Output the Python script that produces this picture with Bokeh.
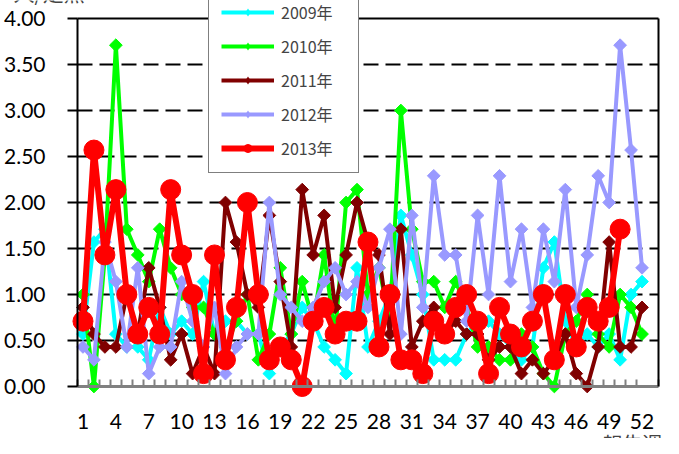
import math
from bokeh.plotting import figure
from bokeh.models import (Range1d, FixedTicker, Legend, LegendItem, Label,
                          NumeralTickFormatter, LinearAxis)
from bokeh.embed import file_html
from bokeh.resources import INLINE

weeks = list(range(1, 53))
x_ticks = list(range(1, 53, 3))
y_ticks = [0.0, 0.5, 1.0, 1.5, 2.0, 2.5, 3.0, 3.5, 4.0]

y2009 = [0.57, 1.57, 1.71, 0.57, 0.43, 0.43, 0.29, 0.86, 0.57, 0.71,
         0.57, 1.14, 0.57, 0.71, 0.71, 0.57, 0.57, 0.14, 0.43, 0.57,
         0.86, 0.71, 0.43, 0.29, 0.14, 1.29, 0.43, 0.71, 1.00, 1.86,
         1.43, 1.00, 0.29, 0.29, 0.29, 0.57, 0.71, 0.71, 0.57, 0.43,
         0.29, 0.43, 1.29, 1.57, 0.71, 0.43, 0.57, 0.43, 0.57, 0.29,
         1.00, 1.14]
y2010 = [1.00, 0.00, 1.43, 3.71, 1.71, 1.43, 1.14, 1.71, 1.29, 1.00,
         0.86, 0.86, 0.57, 0.43, 0.71, 1.00, 0.29, 0.57, 1.29, 0.57,
         1.14, 0.71, 1.43, 0.57, 2.00, 2.14, 1.00, 1.29, 0.71, 3.00,
         1.71, 1.14, 1.14, 0.86, 1.14, 0.86, 0.43, 0.43, 0.29, 0.29,
         0.57, 0.43, 0.14, 0.00, 0.57, 0.71, 1.00, 0.57, 0.43, 1.00,
         0.86, 0.57]
y2011 = [0.86, 0.57, 0.43, 0.43, 1.00, 0.57, 1.29, 0.86, 0.29, 0.57,
         0.14, 0.43, 0.14, 2.00, 1.57, 1.00, 0.86, 1.86, 1.14, 0.43,
         2.14, 1.43, 1.86, 0.86, 1.43, 2.00, 1.57, 1.43, 0.57, 1.71,
         0.43, 0.71, 0.86, 0.57, 0.71, 0.57, 0.57, 0.29, 0.43, 0.43,
         0.14, 0.29, 0.14, 0.29, 0.57, 0.14, 0.00, 0.43, 1.57, 0.43,
         0.43, 0.86]
y2012 = [0.43, 0.29, 1.57, 1.14, 0.43, 1.29, 0.14, 0.43, 0.43, 1.14,
         0.71, 0.43, 0.86, 0.14, 0.43, 0.57, 0.57, 2.00, 1.00, 0.86,
         0.71, 0.86, 1.14, 1.29, 1.00, 1.14, 0.86, 1.29, 1.71, 0.57,
         1.86, 0.86, 2.29, 1.43, 1.43, 0.71, 1.86, 1.00, 2.29, 1.14,
         1.71, 0.86, 1.71, 1.14, 2.14, 0.86, 1.43, 2.29, 2.00, 3.71,
         2.57, 1.29]
y2013 = [0.71, 2.57, 1.43, 2.14, 1.00, 0.57, 0.86, 0.57, 2.14, 1.43,
         1.00, 0.14, 1.43, 0.29, 0.86, 2.00, 1.00, 0.29, 0.43, 0.29,
         0.00, 0.71, 0.86, 0.57, 0.71, 0.71, 1.57, 0.43, 1.00, 0.29,
         0.29, 0.14, 0.71, 0.57, 0.86, 1.00, 0.71, 0.14, 0.86, 0.57,
         0.43, 0.71, 1.00, 0.29, 1.00, 0.43, 0.86, 0.71, 0.86, 1.71]

series_labels = ["2009年", "2010年", "2011年", "2012年", "2013年"]
series_colors = ["#00FFFF", "#00FF00", "#800000", "#9999FF", "#FF0000"]

X0, X1 = 0.5, 53.5      # category axis extent
Y0, Y1 = 0.0, 4.0       # value axis extent

p = figure(width=663, height=438, output_backend="svg", toolbar_location=None,
           x_range=Range1d(-6.524, 53.958), y_range=Range1d(-0.5652, 4.1957))
p.min_border = 0
p.min_border_left = 0
p.min_border_right = 0
p.min_border_top = 0
p.min_border_bottom = 0
p.background_fill_color = "white"
p.border_fill_color = "white"
p.outline_line_color = None
p.xgrid.grid_line_color = None
p.ygrid.grid_line_color = None

# dashed horizontal grid lines inside the plot area
grid_y = [t for t in y_ticks if 0 < t < 4.0]
p.segment(x0=[X0] * len(grid_y), y0=grid_y, x1=[X1] * len(grid_y), y1=grid_y,
          line_color="black", line_width=2, line_dash="15 7")

items = []
all_y = [y2009, y2010, y2011, y2012]
for ys, lab, col in zip(all_y, series_labels[:4], series_colors[:4]):
    xs = weeks[:len(ys)]
    lr = p.line(xs, ys, line_color=col, line_width=4)
    p.scatter(xs, ys, marker="square", angle=math.pi / 4, size=9,
              fill_color=col, line_color=col)
    # zero-size diamonds: invisible in the plot, give the legend its diamond
    lg = p.scatter(xs, ys, marker="diamond", size=0,
                   fill_color=col, line_color=col, line_alpha=0)
    items.append(LegendItem(label=lab, renderers=[lr, lg]))

xs13 = weeks[:len(y2013)]
lr = p.line(xs13, y2013, line_color=series_colors[4], line_width=6)
sr = p.scatter(xs13, y2013, marker="circle", size=20,
               fill_color=series_colors[4], line_color=series_colors[4])
items.append(LegendItem(label=series_labels[4], renderers=[lr, sr]))

# axes, placed at fixed data locations
xax = p.xaxis[0]
xax.fixed_location = Y0
xax.bounds = (X0, X1)
xax.ticker = FixedTicker(ticks=x_ticks,
                         minor_ticks=[w - 0.5 for w in weeks] + [X1])
xax.axis_line_color = "#808080"
xax.axis_line_width = 3
xax.major_tick_line_color = None
xax.minor_tick_line_color = "#808080"
xax.minor_tick_line_width = 2
xax.minor_tick_in = 7
xax.minor_tick_out = 0
xax.major_label_standoff = 21
xax.major_label_text_font = "Lato"
xax.major_label_text_font_size = "21px"
xax.major_label_text_color = "black"

yax = p.yaxis[0]
yax.fixed_location = X0
yax.bounds = (Y0, Y1)
yax.ticker = FixedTicker(ticks=y_ticks)
yax.formatter = NumeralTickFormatter(format="0.00")
yax.axis_line_color = "black"
yax.axis_line_width = 2
yax.major_tick_line_color = "black"
yax.major_tick_line_width = 2
yax.major_tick_in = 0
yax.major_tick_out = 10
yax.minor_tick_line_color = None
yax.major_label_standoff = 22
yax.major_label_text_font = "Lato"
yax.major_label_text_font_size = "21px"
yax.major_label_text_color = "black"

# frame border on the right and on top
rax = LinearAxis(fixed_location=X1, bounds=(Y0, Y1), ticker=FixedTicker(ticks=[]),
                 axis_line_color="black", axis_line_width=2,
                 major_tick_line_color=None, minor_tick_line_color=None,
                 major_label_text_font_size="0px")
p.add_layout(rax, "right")
tax = LinearAxis(fixed_location=Y1, bounds=(X0, X1), ticker=FixedTicker(ticks=[]),
                 axis_line_color="black", axis_line_width=2,
                 major_tick_line_color=None, minor_tick_line_color=None,
                 major_label_text_font_size="0px")
p.add_layout(tax, "above")

legend = Legend(items=items, location=(208, 265))
legend.label_text_font = "Noto Sans CJK JP"
legend.label_text_font_size = "16px"
legend.glyph_width = 53
legend.glyph_height = 20
legend.label_height = 20
legend.label_width = 65
legend.label_standoff = 7
legend.spacing = 10
legend.padding = 12
legend.margin = 0
legend.border_line_color = "black"
legend.border_line_width = 1.5
legend.background_fill_color = "white"
legend.background_fill_alpha = 1
p.add_layout(legend, "center")

p.add_layout(Label(x=-5.338, y=4.13, text="人/定点", text_font="Noto Sans CJK JP",
                   text_font_size="21px", text_baseline="bottom", text_align="left"))
p.add_layout(Label(x=53.866, y=-0.457, text="報告週", text_font="Noto Sans CJK JP",
                   text_font_size="20px", text_baseline="top", text_align="right"))

open("out.html", "w").write(file_html(p, INLINE))
